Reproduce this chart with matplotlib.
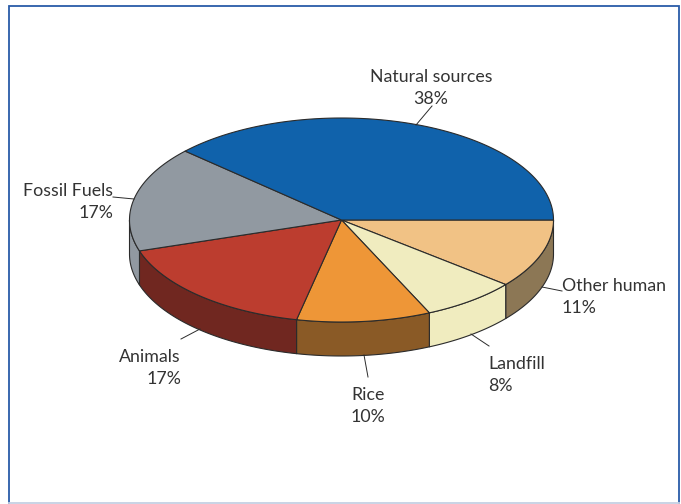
"""Sources of methane as a tilted 3D pie, drawn on a pixel-sized axes."""

import matplotlib

matplotlib.use("Agg")
import matplotlib.pyplot as plt
import numpy as np

WIDTH = 681
HEIGHT = 504
DPI = 100

# Going clockwise from 3 o'clock on the pie face
categories = ["Other human", "Landfill", "Rice", "Animals", "Fossil Fuels", "Natural sources"]
percent_labels = [11, 8, 10, 17, 17, 38]
# Slice sizes as drawn (the printed percentages add up to 101)
drawn_shares = [10.9, 7.3, 10.2, 16.7, 16.7, 38.2]

top_colors = ["#F1C285", "#F0ECBF", "#EE9637", "#BC3D2F", "#9199A1", "#1062AB"]
side_colors = ["#8C7755", "#F0ECBF", "#8A5A26", "#702720", "#9199A1", "#1062AB"]

CENTER_X = 341.5
CENTER_Y = 220
RADIUS_X = 212
RADIUS_Y = 102
DEPTH = 34

EDGE = "#2B2B2B"
TEXT = "#333333"
FRAME = "#2A5CA8"

# label anchor (x, y, ha) and leader line start/end
label_layout = {
    "Natural sources": (431, 88, "center", (432, 106), (416, 125)),
    "Other human": (562, 297, "left", (562, 291), (542, 287)),
    "Landfill": (488, 375, "left", (489, 346), (471, 334)),
    "Rice": (368, 406, "center", (368, 377), (364, 355)),
    "Animals": (181, 368, "right", (181, 339), (200, 329)),
    "Fossil Fuels": (113, 202, "right", (113, 197), (134, 199)),
}


def ellipse_xy(start_deg, end_deg, offset=0.0):
    angles = np.radians(np.linspace(start_deg, end_deg, 200))
    x = CENTER_X + RADIUS_X * np.cos(angles)
    y = CENTER_Y - RADIUS_Y * np.sin(angles) + offset
    return x, y


def main():
    fig = plt.figure(figsize=(WIDTH / DPI, HEIGHT / DPI), dpi=DPI, facecolor="white")
    ax = fig.add_axes([0, 0, 1, 1])
    ax.set_xlim(0, WIDTH)
    ax.set_ylim(HEIGHT, 0)
    ax.axis("off")

    # Frame around the figure
    ax.plot([9, 9, 679, 679], [503, 6, 6, 503], color=FRAME, lw=1.3, solid_joinstyle="miter")
    ax.plot([9, 679], [503, 503], color="#C5D0E3", lw=1.3)

    stops = 360 - np.cumsum([0] + drawn_shares) * 3.6

    # Side wall, only where the rim faces the viewer
    for i in range(len(categories)):
        end, start = stops[i], stops[i + 1]
        low, high = max(start, 180), end
        if high <= low:
            continue
        x_top, y_top = ellipse_xy(low, high)
        x_bot, y_bot = ellipse_xy(high, low, DEPTH)
        ax.fill(np.r_[x_top, x_bot], np.r_[y_top, y_bot], facecolor=side_colors[i],
                edgecolor=EDGE, lw=0.8, joinstyle="round")

    # Top face
    for i in range(len(categories)):
        x_arc, y_arc = ellipse_xy(stops[i + 1], stops[i])
        ax.fill(np.r_[CENTER_X, x_arc], np.r_[CENTER_Y, y_arc], facecolor=top_colors[i],
                edgecolor=EDGE, lw=0.8, joinstyle="round")

    for name, pct in zip(categories, percent_labels):
        x, y, ha, line_start, line_end = label_layout[name]
        ax.plot([line_start[0], line_end[0]], [line_start[1], line_end[1]], color=EDGE, lw=0.7)
        ax.text(x, y, f"{name}\n{pct}%", ha=ha, va="center", multialignment=ha,
                color=TEXT, fontsize=12.8, family="Lato", linespacing=1.45)

    fig.savefig("out.png", dpi=DPI, facecolor="white")
    plt.close(fig)


if __name__ == "__main__":
    main()
